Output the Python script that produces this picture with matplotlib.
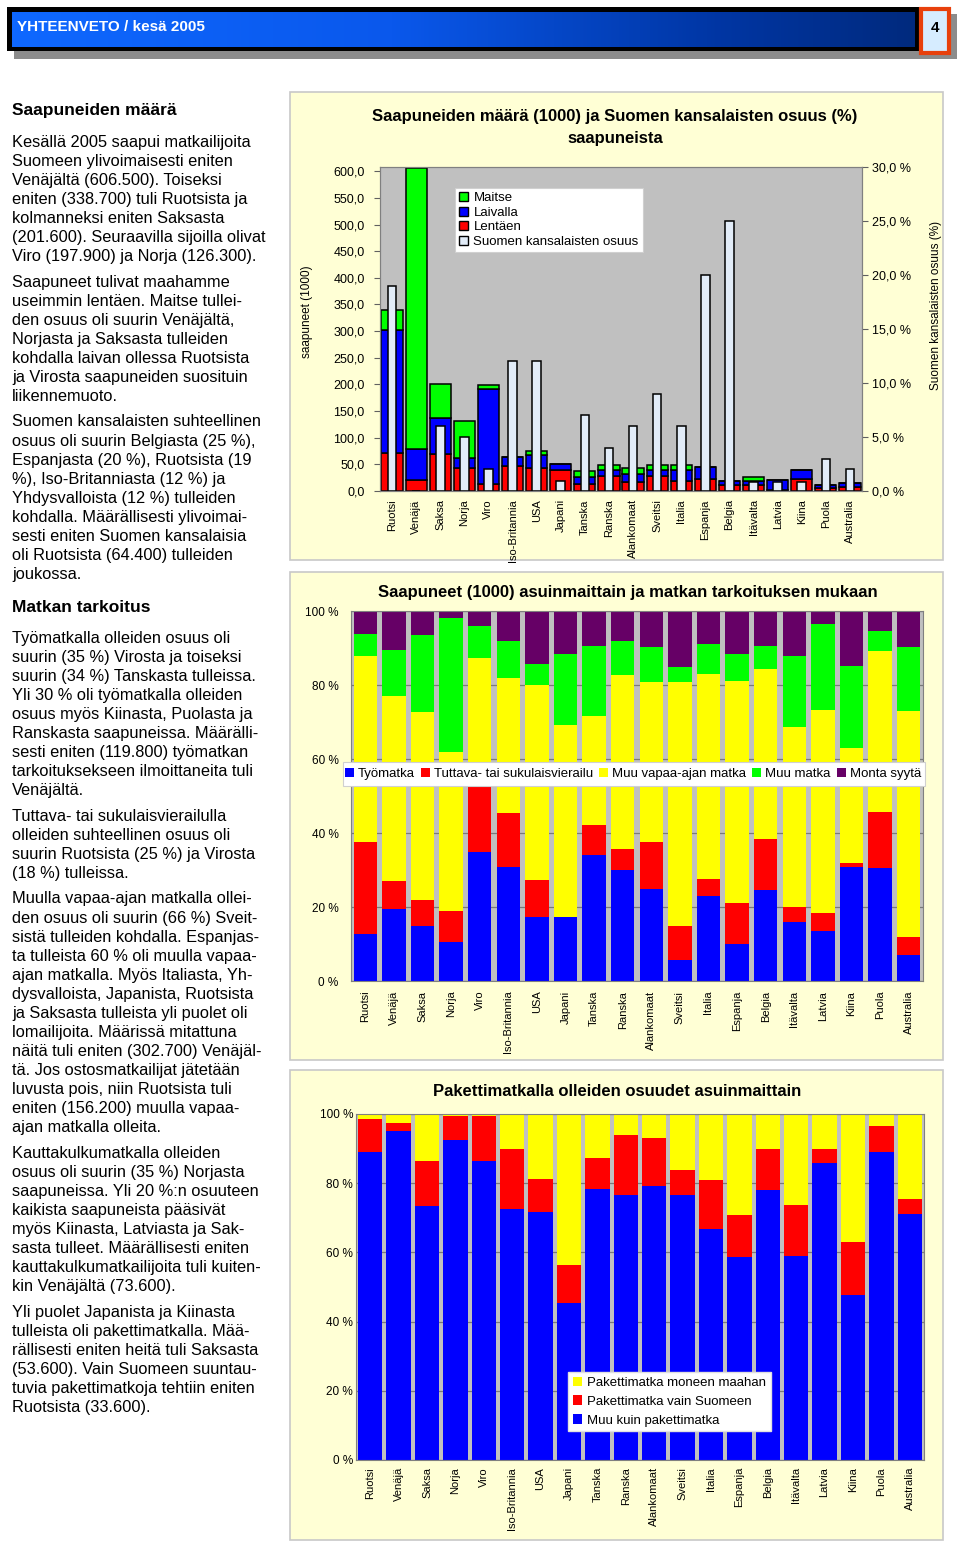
import numpy as np
import matplotlib
matplotlib.use("Agg")
import matplotlib.pyplot as plt
from matplotlib.patches import Rectangle, Patch
from matplotlib.colors import LinearSegmentedColormap
from matplotlib.transforms import Bbox, TransformedBbox

plt.rcParams['font.family'] = ['Liberation Sans', 'DejaVu Sans']

# ---------------- DATA ----------------
countries = ["Ruotsi", "Venäjä", "Saksa", "Norja", "Viro", "Iso-Britannia", "USA",
             "Japani", "Tanska", "Ranska", "Alankomaat", "Sveitsi", "Italia",
             "Espanja", "Belgia", "Itävalta", "Latvia", "Kiina", "Puola", "Australia"]

# Chart 1: arrivals (1000) by mode, and share of Finnish citizens (%)
lentaen  = [72, 21, 69, 44, 14, 47, 44, 39, 14, 28, 17, 28, 19, 22, 11, 11, 1, 22, 5, 7.5]
laivalla = [231, 57, 68.5, 17, 177, 17, 23.5, 12, 12, 11, 14, 11, 20, 23, 8, 8, 20, 17, 6, 8]
maitse   = [36, 528.5, 64, 71, 7, 0, 8.5, 0, 11.5, 9, 11.5, 9, 9, 0, 0, 7, 0, 0, 0, 0]
suomen_osuus = [19, 0, 6, 5, 2, 12, 12, 0.9, 7, 4, 6, 9, 6, 20, 25, 0.8, 0.8, 0.8, 3, 2]

# Chart 2: purpose of trip (%)
tyomatka = [12.6, 19.5, 14.8, 10.5, 34.9, 30.9, 17.2, 17.2, 34.1, 30.0, 25.0, 5.7, 23.0,
            10.0, 24.6, 15.9, 13.6, 30.9, 30.5, 6.9]
tuttava  = [25.0, 7.4, 7.1, 8.5, 18.0, 14.6, 10.2, 0.0, 8.1, 5.6, 12.6, 9.1, 4.7,
            11.1, 13.7, 4.0, 4.7, 1.1, 15.2, 5.1]
muu_vapaa = [50.3, 50.0, 50.7, 42.9, 34.5, 36.5, 52.6, 51.9, 29.5, 47.1, 43.1, 65.9, 55.4,
             60.1, 46.0, 48.7, 55.0, 31.1, 43.4, 61.0]
muu_matka = [5.8, 12.5, 20.8, 36.2, 8.6, 9.8, 5.8, 19.2, 18.8, 9.1, 9.6, 4.1, 7.9,
             7.1, 6.2, 19.3, 23.1, 22.0, 5.4, 17.3]
monta_syyta = [6.3, 10.6, 6.6, 1.9, 4.0, 8.2, 14.2, 11.7, 9.5, 8.2, 9.7, 15.2, 9.0,
               11.7, 9.5, 12.1, 3.6, 14.9, 5.5, 9.7]

# Chart 3: package tours (%)
muu_kuin_paketti = [88.9, 95.2, 73.3, 92.6, 86.3, 72.4, 71.6, 45.5, 78.4, 76.7, 79.3, 76.7,
                    66.9, 58.6, 78.0, 58.9, 85.9, 47.6, 88.9, 71.2]
paketti_suomeen = [9.7, 2.2, 13.0, 6.9, 13.1, 17.4, 9.7, 10.8, 8.8, 17.1, 13.8, 7.0,
                   13.9, 12.1, 12.0, 14.7, 3.9, 15.4, 7.6, 4.1]
paketti_moneen = [1.4, 2.6, 13.7, 0.5, 0.6, 10.2, 18.7, 43.7, 12.8, 6.2, 6.9, 16.3,
                  19.2, 29.3, 10.0, 26.4, 10.2, 37.0, 3.5, 24.7]

left_ticks = [0, 50, 100, 150, 200, 250, 300, 350, 400, 450, 500, 550, 600]
right_ticks = [0, 5, 10, 15, 20, 25, 30]
pct_ticks = [0, 20, 40, 60, 80, 100]

# ---------------- LAYOUT ----------------
W, H = 960, 1545
fig = plt.figure(figsize=(W / 100, H / 100), dpi=100)
fig.patch.set_facecolor('white')


def R(x0, y0, x1, y1):
    return [x0 / W, 1 - y1 / H, (x1 - x0) / W, (y1 - y0) / H]


def FX(x):
    return x / W


def FY(y):
    return 1 - y / H


def frect(x0, y0, x1, y1, **kw):
    r = Rectangle((x0 / W, 1 - y1 / H), (x1 - x0) / W, (y1 - y0) / H,
                  transform=fig.transFigure, **kw)
    fig.patches.append(r)
    return r


RED = '#FF0000'
BLUE = '#0000FF'
GREEN = '#00FF00'
YELLOW = '#FFFF00'
PURPLE = '#660066'
PANEL = '#FFFFD5'
PLOTBG = '#C0C0C0'
WHITEBAR = '#E2ECF8'

# ---------------- HEADER ----------------
frect(14, 14, 926, 59, facecolor='#8C8C8C', edgecolor='none', zorder=-3)
frect(7, 7, 919, 51, facecolor='black', edgecolor='none', zorder=-2)
axh = fig.add_axes(R(12, 12, 915, 47))
axh.set_axis_off()
cmap = LinearSegmentedColormap.from_list('hdr', [(0, '#0F68FF'), (0.42, '#0A58EC'),
                                                  (0.78, '#0036A4'), (1.0, '#002A7E')])
grad = np.linspace(0, 1, 512).reshape(1, -1)
axh.imshow(grad, aspect='auto', cmap=cmap, extent=(0, 1, 0, 1))
axh.set_xlim(0, 1)
axh.set_ylim(0, 1)
fig.text(FX(17), FY(27), "YHTEENVETO / kesä 2005", color='white', fontsize=11,
         fontweight='bold', ha='left', va='center')
frect(925, 14, 957, 59, facecolor='#8C8C8C', edgecolor='none', zorder=4)
frect(920.5, 8.5, 948.5, 52.5, facecolor='#D6ECFF', edgecolor='#E8400C', linewidth=3, zorder=5)
fig.text(FX(935), FY(28), "4", color='black', fontsize=11, fontweight='bold',
         ha='center', va='center', zorder=6)

# ---------------- LEFT TEXT COLUMN ----------------
LS = 19.05
BODY = 11.8
HEAD = 12.5


def heading(y, s):
    fig.text(FX(12), FY(y), s, fontsize=HEAD, fontweight='bold', ha='left', va='center')


def para(y0, lines):
    for i, s in enumerate(lines):
        fig.text(FX(12), FY(y0 + i * LS), s, fontsize=BODY, ha='left', va='center')


heading(111, "Saapuneiden määrä")
para(142, ["Kesällä 2005 saapui matkailijoita",
           "Suomeen ylivoimaisesti eniten",
           "Venäjältä (606.500). Toiseksi",
           "eniten (338.700) tuli Ruotsista ja",
           "kolmanneksi eniten Saksasta",
           "(201.600). Seuraavilla sijoilla olivat",
           "Viro (197.900) ja Norja (126.300)."])
para(282, ["Saapuneet tulivat maahamme",
           "useimmin lentäen. Maitse tullei-",
           "den osuus oli suurin Venäjältä,",
           "Norjasta ja Saksasta tulleiden",
           "kohdalla laivan ollessa Ruotsista",
           "ja Virosta saapuneiden suosituin",
           "liikennemuoto."])
para(422, ["Suomen kansalaisten suhteellinen",
           "osuus oli suurin Belgiasta (25 %),",
           "Espanjasta (20 %), Ruotsista (19",
           "%), Iso-Britanniasta (12 %) ja",
           "Yhdysvalloista (12 %) tulleiden",
           "kohdalla. Määrällisesti ylivoimai-",
           "sesti eniten Suomen kansalaisia",
           "oli Ruotsista (64.400) tulleiden",
           "joukossa."])
heading(608, "Matkan tarkoitus")
para(638, ["Työmatkalla olleiden osuus oli",
           "suurin (35 %) Virosta ja toiseksi",
           "suurin (34 %) Tanskasta tulleissa.",
           "Yli 30 % oli työmatkalla olleiden",
           "osuus myös Kiinasta, Puolasta ja",
           "Ranskasta saapuneissa. Määrälli-",
           "sesti eniten (119.800) työmatkan",
           "tarkoituksekseen ilmoittaneita tuli",
           "Venäjältä."])
para(816, ["Tuttava- tai sukulaisvierailulla",
           "olleiden suhteellinen osuus oli",
           "suurin Ruotsista (25 %) ja Virosta",
           "(18 %) tulleissa."])
para(899, ["Muulla vapaa-ajan matkalla ollei-",
           "den osuus oli suurin (66 %) Sveit-",
           "sistä tulleiden kohdalla. Espanjas-",
           "ta tulleista 60 % oli muulla vapaa-",
           "ajan matkalla. Myös Italiasta, Yh-",
           "dysvalloista, Japanista, Ruotsista",
           "ja Saksasta tulleista yli puolet oli",
           "lomailijoita. Määrissä mitattuna",
           "näitä tuli eniten (302.700) Venäjäl-",
           "tä. Jos ostosmatkailijat jätetään",
           "luvusta pois, niin Ruotsista tuli",
           "eniten (156.200) muulla vapaa-",
           "ajan matkalla olleita."])
para(1153, ["Kauttakulkumatkalla olleiden",
            "osuus oli suurin (35 %) Norjasta",
            "saapuneissa. Yli 20 %:n osuuteen",
            "kaikista saapuneista pääsivät",
            "myös Kiinasta, Latviasta ja Sak-",
            "sasta tulleet. Määrällisesti eniten",
            "kauttakulkumatkailijoita tuli kuiten-",
            "kin Venäjältä (73.600)."])
para(1312, ["Yli puolet Japanista ja Kiinasta",
            "tulleista oli pakettimatkalla. Mää-",
            "rällisesti eniten heitä tuli Saksasta",
            "(53.600). Vain Suomeen suuntau-",
            "tuvia pakettimatkoja tehtiin eniten",
            "Ruotsista (33.600)."])

# ---------------- PANELS ----------------
frect(290, 92, 943, 560, facecolor=PANEL, edgecolor='#C8C8C8', linewidth=1.2, zorder=-5)
frect(290, 572, 943, 1060, facecolor=PANEL, edgecolor='#C8C8C8', linewidth=1.2, zorder=-5)
frect(290, 1070, 943, 1540, facecolor=PANEL, edgecolor='#C8C8C8', linewidth=1.2, zorder=-5)

x = np.arange(len(countries))

# ---------------- CHART 1 ----------------
a1 = fig.add_axes(R(380, 167, 862, 491))
a1.set_facecolor(PLOTBG)
lw = np.array(lentaen)
lv = np.array(laivalla)
mt = np.array(maitse)
a1.bar(x, lw, width=0.88, color=RED, edgecolor='black', linewidth=1.1)
a1.bar(x, lv, width=0.88, bottom=lw, color=BLUE, edgecolor='black', linewidth=1.1)
a1.bar(x, mt, width=0.88, bottom=lw + lv, color=GREEN, edgecolor='black', linewidth=1.1)
a1.set_xlim(-0.5, len(countries) - 0.5)
a1.set_ylim(0, 608)
a1.set_yticks(left_ticks)
a1.set_yticklabels([f"{v:.1f}".replace('.', ',') for v in left_ticks], fontsize=9)
a1.set_xticks(x)
a1.set_xticklabels(countries, rotation=90, fontsize=8, va='top', ha='center')
a1.tick_params(axis='x', length=0, pad=6)
a1.tick_params(axis='y', length=4, pad=7, color='#606060')
for s in a1.spines.values():
    s.set_color('#808080')
a1.set_ylabel("saapuneet (1000)", fontsize=8.5)
a1.yaxis.set_label_coords(FX(313), FY(312), transform=fig.transFigure)

a1b = a1.twinx()
a1b.bar(x, suomen_osuus, width=0.36, color=WHITEBAR, edgecolor='black', linewidth=1.1)
a1b.set_ylim(0, 30)
a1b.set_yticks(right_ticks)
a1b.set_yticklabels([f"{v:.1f} %".replace('.', ',') for v in right_ticks], fontsize=9)
a1b.tick_params(axis='y', length=4, pad=3, color='#606060')
for s in a1b.spines.values():
    s.set_color('#808080')
a1b.set_ylabel("Suomen kansalaisten osuus (%)", fontsize=8.5)
a1b.yaxis.set_label_coords(FX(930), FY(305), transform=fig.transFigure)

fig.text(FX(615), FY(117), "Saapuneiden määrä (1000) ja Suomen kansalaisten osuus (%)",
         fontsize=12, fontweight='bold', ha='center', va='center')
fig.text(FX(615), FY(139), "saapuneista", fontsize=12, fontweight='bold',
         ha='center', va='center')

h1 = [Patch(facecolor=GREEN, edgecolor='black'), Patch(facecolor=BLUE, edgecolor='black'),
      Patch(facecolor=RED, edgecolor='black'), Patch(facecolor=WHITEBAR, edgecolor='black')]
leg1 = a1b.legend(h1, ["Maitse", "Laivalla", "Lentäen", "Suomen kansalaisten osuus"],
                  loc='upper left', bbox_to_anchor=(FX(455), FY(188)),
                  bbox_transform=fig.transFigure, fontsize=9.5, frameon=True,
                  fancybox=False, framealpha=1, edgecolor='#D0D0D0',
                  handlelength=0.7, handleheight=0.7, handletextpad=0.4,
                  labelspacing=0.18, borderpad=0.3, borderaxespad=0)
leg1.get_frame().set_linewidth(0.8)

# ---------------- CHART 2 ----------------
a2 = fig.add_axes(R(351, 611, 923, 981))
a2.set_facecolor(PLOTBG)
a2.set_axisbelow(True)
a2.yaxis.grid(True, color='#7A7A7A', linewidth=0.9)
series2 = [(tyomatka, BLUE, "Työmatka"), (tuttava, RED, "Tuttava- tai sukulaisvierailu"),
           (muu_vapaa, YELLOW, "Muu vapaa-ajan matka"), (muu_matka, GREEN, "Muu matka"),
           (monta_syyta, PURPLE, "Monta syytä")]
bottom = np.zeros(len(countries))
handles2 = []
for vals, col, lab in series2:
    v = np.array(vals)
    b = a2.bar(x, v, width=0.82, bottom=bottom, color=col, edgecolor='none', label=lab)
    handles2.append(b)
    bottom = bottom + v
a2.set_xlim(-0.5, len(countries) - 0.5)
a2.set_ylim(0, 100)
a2.set_yticks(pct_ticks)
a2.set_yticklabels([f"{v} %" for v in pct_ticks], fontsize=8.5)
a2.set_xticks(x)
a2.set_xticklabels(countries, rotation=90, fontsize=8, va='top', ha='center')
a2.tick_params(axis='x', length=0, pad=7)
a2.tick_params(axis='y', length=0, pad=9)
for s in a2.spines.values():
    s.set_color('#808080')
fig.text(FX(628), FY(592), "Saapuneet (1000) asuinmaittain ja matkan tarkoituksen mukaan",
         fontsize=12, fontweight='bold', ha='center', va='center')

box2 = Rectangle((FX(343), FY(786)), FX(925) - FX(343), FY(762) - FY(786),
                 transform=fig.transFigure, facecolor='white', edgecolor='#D0D0D0',
                 linewidth=0.8, zorder=4, clip_on=False)
a2.add_artist(box2)
leg2 = a2.legend(handles=handles2, loc='center left', bbox_to_anchor=(FX(342), FY(774)),
                 bbox_transform=fig.transFigure, ncol=5, fontsize=9.5, frameon=False,
                 handlelength=0.7, handleheight=0.7, handletextpad=0.3,
                 columnspacing=0.45, borderpad=0.2, borderaxespad=0)
clipbb = TransformedBbox(Bbox.from_extents(FX(343), FY(786), FX(924), FY(762)), fig.transFigure)
for t in leg2.get_texts():
    t.set_clip_box(clipbb)
    t.set_clip_on(True)

# ---------------- CHART 3 ----------------
a3 = fig.add_axes(R(356, 1114, 924, 1460))
a3.set_facecolor(PLOTBG)
a3.set_axisbelow(True)
a3.yaxis.grid(True, color='#7A7A7A', linewidth=0.9)
b_blue = np.array(muu_kuin_paketti)
b_red = np.array(paketti_suomeen)
b_yel = np.array(paketti_moneen)
h_blue = a3.bar(x, b_blue, width=0.86, color=BLUE, edgecolor='none')
h_red = a3.bar(x, b_red, width=0.86, bottom=b_blue, color=RED, edgecolor='none')
h_yel = a3.bar(x, b_yel, width=0.86, bottom=b_blue + b_red, color=YELLOW, edgecolor='none')
a3.set_xlim(-0.5, len(countries) - 0.5)
a3.set_ylim(0, 100)
a3.set_yticks(pct_ticks)
a3.set_yticklabels([f"{v} %" for v in pct_ticks], fontsize=8.5)
a3.set_xticks(x)
a3.set_xticklabels(countries, rotation=90, fontsize=8, va='top', ha='center')
a3.tick_params(axis='x', length=0, pad=5)
a3.tick_params(axis='y', length=0, pad=2)
for s in a3.spines.values():
    s.set_color('#808080')
fig.text(FX(617), FY(1092), "Pakettimatkalla olleiden osuudet asuinmaittain",
         fontsize=12, fontweight='bold', ha='center', va='center')
leg3 = a3.legend([h_yel, h_red, h_blue],
                 ["Pakettimatka moneen maahan", "Pakettimatka vain Suomeen",
                  "Muu kuin pakettimatka"],
                 loc='upper left', bbox_to_anchor=(FX(568), FY(1372)),
                 bbox_transform=fig.transFigure, fontsize=9.5, frameon=True,
                 fancybox=False, framealpha=1, edgecolor='#E0E0E0',
                 handlelength=0.7, handleheight=0.7, handletextpad=0.4,
                 labelspacing=0.5, borderpad=0.35, borderaxespad=0)

fig.savefig("out.png", dpi=100)
